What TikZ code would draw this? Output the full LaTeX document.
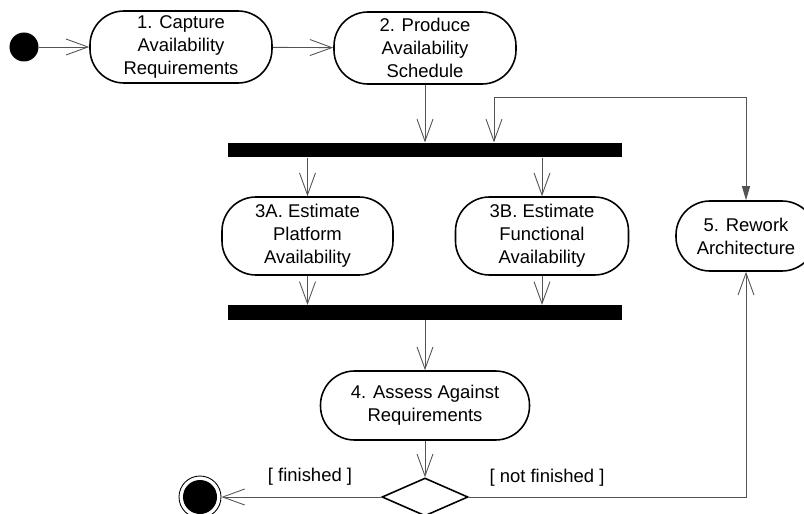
\documentclass[tikz,border=0pt]{standalone}
\usepackage{fontspec}
\setmainfont{Liberation Sans}
\usetikzlibrary{shapes.geometric, arrows.meta}
\usepackage{xcolor}
\newcommand{\ActFont}{\fontsize{10.5}{13.1}\selectfont}
\definecolor{flowgray}{rgb}{0.33,0.33,0.33}

\begin{document}
\begin{tikzpicture}[>={Straight Barb[length=0.44cm,width=0.32cm]},
    action/.style={draw, line width=0.9pt, rectangle, rounded corners=0.68cm,
                   align=center, inner sep=0pt, font=\ActFont},
    syncbar/.style={fill=black, inner sep=0pt, minimum width=7.88cm, minimum height=0.29cm},
    decision/.style={draw, diamond, line width=0.9pt, inner sep=0pt, aspect=2.26,
                     minimum width=1.72cm, minimum height=0.76cm},
    startdot/.style={circle, fill=black, inner sep=0pt, minimum size=0.58cm},
    enddot/.style={circle, draw, line width=0.5pt, inner sep=0pt, minimum size=0.84cm,
                   path picture={\fill (path picture bounding box.center) circle (0.34cm);}},
    flow/.style={->, draw=flowgray, line width=0.5pt},
    guard/.style={font=\ActFont}]
  \useasboundingbox (0,0) rectangle (16.08,-10.28);
  \node[startdot]                                          (init) at (0.48, -0.94)  {};
  \node[action, minimum width=3.64cm, minimum height=1.44cm] (A1)   at (3.62, -0.94)  {1. Capture\\Availability\\Requirements};
  \node[action, minimum width=3.64cm, minimum height=1.44cm] (A2)   at (8.5, -0.96)   {2. Produce\\Availability\\Schedule};
  \node[syncbar]                                           (fork) at (8.5, -3.0)    {};
  \node[action, minimum width=3.42cm, minimum height=1.56cm] (A3a)  at (6.15, -4.72)  {3A. Estimate\\Platform\\Availability};
  \node[action, minimum width=3.46cm, minimum height=1.56cm] (A3b)  at (10.84, -4.72) {3B. Estimate\\Functional\\Availability};
  \node[action, minimum width=2.8cm, minimum height=1.4cm]   (A5)   at (14.92, -4.72) {5. Rework\\Architecture};
  \node[syncbar]                                           (join) at (8.5, -6.25)   {};
  \node[action, minimum width=4.18cm, minimum height=1.38cm] (A4)   at (8.5, -8.11)   {4. Assess Against\\Requirements};
  \node[decision]                                          (dec)  at (8.5, -9.94)   {};
  \node[enddot]                                            (final) at (4.0, -9.94)  {};
  \node[guard]                                             (gfin) at (6.2, -9.54)   {[ finished ]};
  \node[guard]                                             (gnot) at (10.94, -9.56) {[ not finished ]};
  \coordinate (back) at (9.88, -1.94);
  \draw[flow] (init) -- (A1);
  \draw[flow] (A1) -- (A2);
  \draw[flow] (A2.south) -- (A2.south |- fork.north);
  \draw[flow] (A3a.north |- fork.south) -- (A3a.north);
  \draw[flow] (A3b.north |- fork.south) -- (A3b.north);
  \draw[flow] (A3a.south) -- (A3a.south |- join.north);
  \draw[flow] (A3b.south) -- (A3b.south |- join.north);
  \draw[flow] (join.south) -- (A4.north);
  \draw[flow] (A4) -- (dec);
  \draw[flow] (dec) -- (final);
  \draw[flow] (dec.east) -| (A5.south);
  \draw[flow, {Triangle[length=0.28cm,width=0.16cm]}->] (A5.north) |- (back) -- (back |- fork.north);
\end{tikzpicture}
\end{document}
